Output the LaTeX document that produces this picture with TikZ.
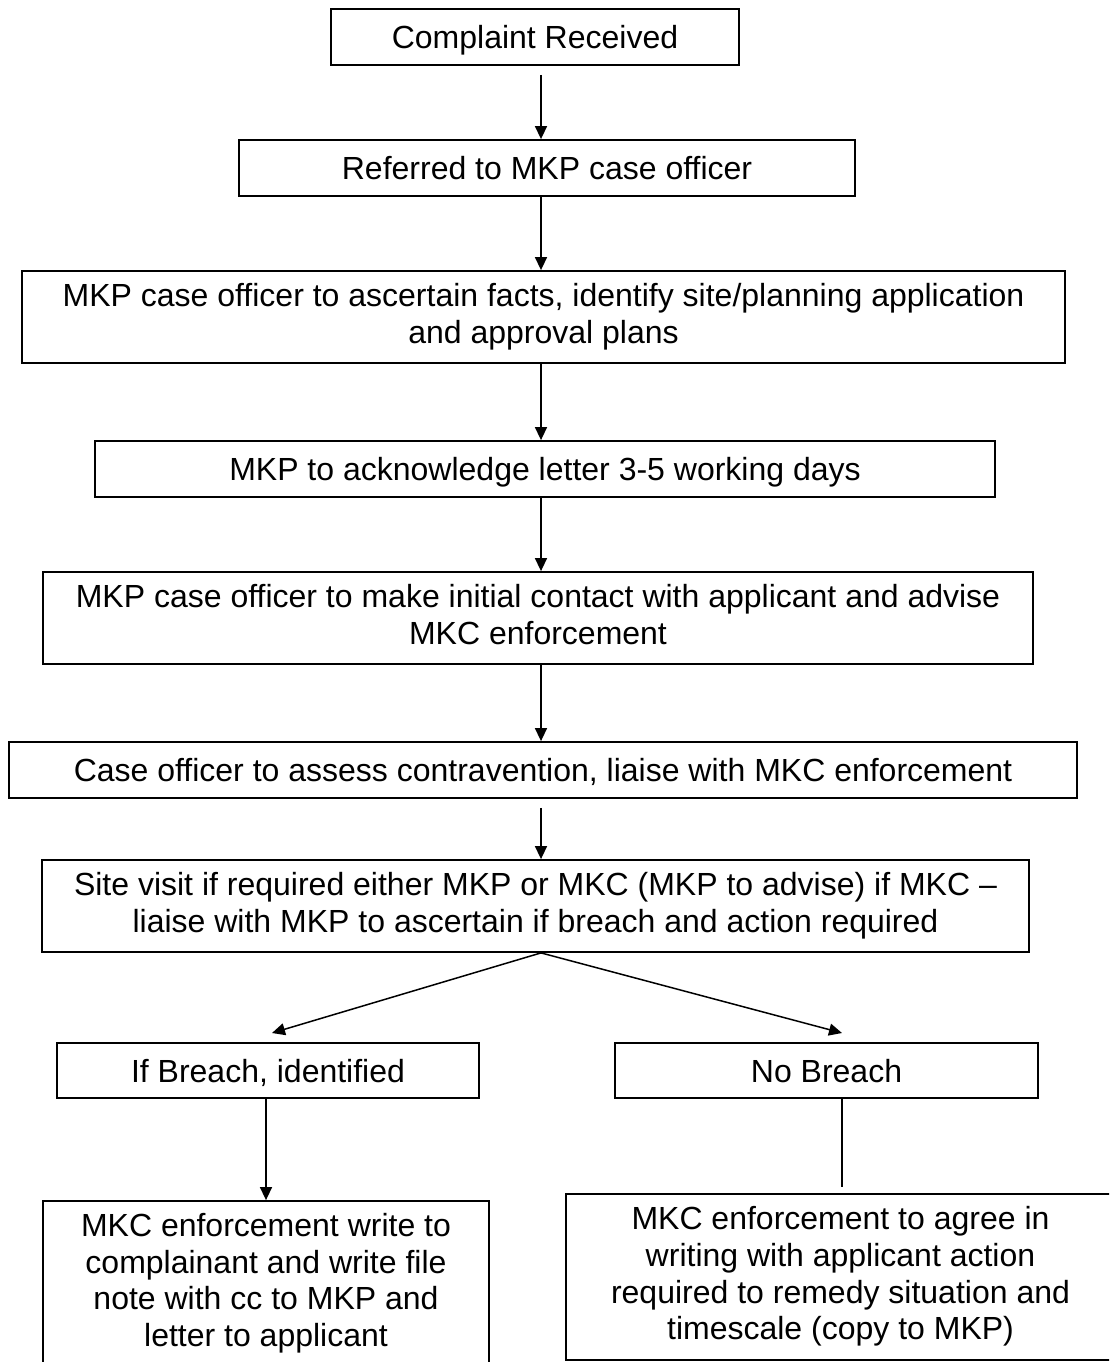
\documentclass[tikz,border=0pt]{standalone}
\usepackage{fontspec}
\setmainfont{Liberation Sans}
\usetikzlibrary{arrows.meta}
\newcommand\bxstrut{\rule[-7.5pt]{0pt}{38pt}}
\begin{document}
\begin{tikzpicture}[x=1pt,y=-1pt,
  box/.style={draw, line width=1.8pt, inner sep=0pt, align=center,
    font=\fontsize{32}{36.7}\selectfont,
    execute at begin node=\bxstrut, execute at end node=\bxstrut},
  conn/.style={line width=1.5pt, -{Triangle[length=13pt,width=12pt]}},
  plainline/.style={line width=1.5pt}]
\useasboundingbox (0,0) rectangle (1109,1362);
\clip (0,0) rectangle (1109,1362);
\fill[white] (0,0) rectangle (1109,1362);

\node[box, minimum width=408pt, minimum height=56pt] (b1) at (535,37) {Complaint Received};
\node[box, minimum width=616pt, minimum height=56pt] (b2) at (547,168) {Referred to MKP case officer};
\node[box, minimum width=1043pt, minimum height=92pt] (b3) at (543.5,317) {MKP case officer to ascertain facts, identify site/planning application\\and approval plans};
\node[box, minimum width=900pt, minimum height=56pt] (b4) at (545,469) {MKP to acknowledge letter 3-5 working days};
\node[box, minimum width=990pt, minimum height=92pt] (b5) at (538,618) {MKP case officer to make initial contact with applicant and advise\\MKC enforcement};
\node[box, minimum width=1068pt, minimum height=56pt] (b6) at (543,770) {Case officer to assess contravention, liaise with MKC enforcement};
\node[box, minimum width=987pt, minimum height=92pt] (b7) at (535.5,906) {Site visit if required either MKP or MKC (MKP to advise) if MKC –\\liaise with MKP to ascertain if breach and action required};
\node[box, minimum width=422pt, minimum height=55pt] (b8) at (268,1070.5) {If Breach, identified};
\node[box, minimum width=423pt, minimum height=55pt] (b9) at (826.5,1070.5) {No Breach};
\node[box, minimum width=446pt, minimum height=165pt] (b10) at (266,1283.5) {MKC enforcement write to\\complainant and write file\\note with cc to MKP and\\letter to applicant};
\node[box, minimum width=549pt, minimum height=166pt] (b11) at (840.5,1277) {MKC enforcement to agree in\\writing with applicant action\\required to remedy situation and\\timescale (copy to MKP)};

\coordinate (ax) at (541,0);
\coordinate (lx) at (266,0);
\coordinate (rx) at (842,0);
\coordinate (tl) at (272,1033);
\coordinate (tr) at (842,1033);

\draw[conn, shorten <=9pt] (b1.south -| ax) -- (b2.north -| ax);
\draw[conn] (b2.south -| ax) -- (b3.north -| ax);
\draw[conn] (b3.south -| ax) -- (b4.north -| ax);
\draw[conn] (b4.south -| ax) -- (b5.north -| ax);
\draw[conn] (b5.south -| ax) -- (b6.north -| ax);
\draw[conn, shorten <=9pt] (b6.south -| ax) -- (b7.north -| ax);
\draw[conn] (b7.south -| ax) -- (tl);
\draw[conn] (b7.south -| ax) -- (tr);
\draw[conn] (b8.south -| lx) -- (b10.north -| lx);
\draw[plainline, shorten >=6pt] (b9.south -| rx) -- (b11.north -| rx);
\end{tikzpicture}
\end{document}
